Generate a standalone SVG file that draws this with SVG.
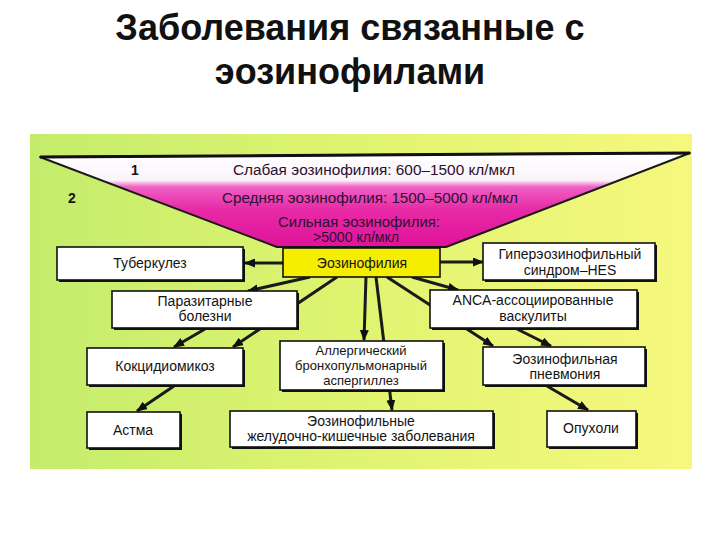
<svg xmlns="http://www.w3.org/2000/svg" width="720" height="540" viewBox="0 0 720 540">
<style>
  .t { font-family: "Liberation Sans", Arial, sans-serif; fill: #141414; text-anchor: middle; }
  .title { font-family: "Liberation Sans", Arial, sans-serif; font-weight: bold; font-size: 36px; fill: #111; text-anchor: middle; }
  .n { font-size: 14px; }
  .s { font-size: 13px; }
  .f { font-size: 14px; fill: #2a1030; }
  .box { fill: #ffffff; stroke: #111; stroke-width: 1.6; }
  .sh { fill: #111; }
  .c { stroke: #1a1a1a; stroke-width: 3; fill: none; marker-end: url(#ah); }
</style>
<defs>
  <linearGradient id="bg" x1="30" y1="0" x2="690" y2="0" gradientUnits="userSpaceOnUse">
    <stop offset="0" stop-color="#c4ec6c"/>
    <stop offset="0.5" stop-color="#e0f470"/>
    <stop offset="1" stop-color="#f6f87e"/>
  </linearGradient>
  <linearGradient id="fun" x1="0" y1="153" x2="0" y2="247" gradientUnits="userSpaceOnUse">
    <stop offset="0" stop-color="#ffffff"/>
    <stop offset="0.29" stop-color="#fbf4fa"/>
    <stop offset="0.36" stop-color="#f060c4"/>
    <stop offset="0.6" stop-color="#e82aa6"/>
    <stop offset="1" stop-color="#e0129a"/>
  </linearGradient>
  <marker id="ah" markerUnits="userSpaceOnUse" markerWidth="11" markerHeight="9" refX="10" refY="4.5" orient="auto">
    <path d="M0,0 L11,4.5 L0,9 z" fill="#111"/>
  </marker>
</defs>

<rect width="720" height="540" fill="#ffffff"/>
<text class="title" x="350" y="40">Заболевания связанные с</text>
<text class="title" x="350" y="84">эозинофилами</text>

<rect x="30" y="134" width="662" height="335" fill="url(#bg)"/>

<g id="funnel">
  <polygon points="40,157 690,153 446,247 277,247" fill="url(#fun)" stroke="#1a1a1a" stroke-width="2" stroke-linejoin="round"/>
  <line x1="40" y1="157" x2="690" y2="153" stroke="#111" stroke-width="3"/>
  <text class="t" x="135" y="175" style="font-size:14px;font-weight:bold">1</text>
  <text class="t" x="72" y="203" style="font-size:14px;font-weight:bold">2</text>
  <text class="t f" x="374" y="175" textLength="282" lengthAdjust="spacingAndGlyphs">Слабая эозинофилия: 600–1500 кл/мкл</text>
  <text class="t f" x="370" y="203" textLength="296" lengthAdjust="spacingAndGlyphs">Средняя эозинофилия: 1500–5000 кл/мкл</text>
  <text class="t f" x="359" y="227" textLength="162" lengthAdjust="spacingAndGlyphs">Сильная эозинофилия:</text>
  <text class="t f" x="356" y="242" textLength="86" lengthAdjust="spacingAndGlyphs">&gt;5000 кл/мкл</text>
</g>

<g id="connectors">
  <line class="c" x1="283" y1="263" x2="245" y2="263"/>
  <line class="c" x1="440" y1="262" x2="483" y2="262"/>
  <line class="c" x1="310" y1="277" x2="248" y2="291"/>
  <line class="c" x1="337" y1="277" x2="233" y2="347"/>
  <line class="c" x1="205" y1="329" x2="174" y2="347"/>
  <line class="c" x1="174" y1="386" x2="137" y2="411"/>
  <line class="c" x1="366" y1="277" x2="364" y2="340"/>
  <line class="c" x1="376" y1="277" x2="392" y2="410"/>
  <line class="c" x1="412" y1="277" x2="458" y2="290"/>
  <line class="c" x1="387" y1="277" x2="493" y2="346"/>
  <line class="c" x1="517" y1="329" x2="551" y2="346"/>
  <line class="c" x1="547" y1="386" x2="588" y2="410"/>
</g>

<g id="eos">
  <rect x="283" y="248" width="157" height="29" fill="#f6ee00" stroke="#111" stroke-width="1.6"/>
  <text class="t n" x="362" y="268">Эозинофилия</text>
</g>

<g id="tub">
  <rect class="sh" x="59" y="249" width="186" height="33"/>
  <rect class="box" x="57" y="247" width="186" height="33"/>
  <text class="t n" x="150" y="268">Туберкулез</text>
</g>

<g id="hes">
  <rect class="sh" x="485" y="245" width="172" height="37"/>
  <rect class="box" x="483" y="243" width="172" height="37"/>
  <text class="t n" x="570" y="259">Гиперэозинофильный</text>
  <text class="t n" x="570" y="275">синдром–HES</text>
</g>

<g id="parasit">
  <rect class="sh" x="114" y="293" width="185" height="37"/>
  <rect class="box" x="112" y="291" width="185" height="37"/>
  <text class="t n" x="205" y="306">Паразитарные</text>
  <text class="t n" x="205" y="321">болезни</text>
</g>

<g id="anca">
  <rect class="sh" x="432" y="292" width="207" height="38"/>
  <rect class="box" x="430" y="290" width="207" height="38"/>
  <text class="t n" x="533" y="305">ANCA-ассоциированные</text>
  <text class="t n" x="533" y="321">васкулиты</text>
</g>

<g id="kokc">
  <rect class="sh" x="89" y="350" width="156" height="37"/>
  <rect class="box" x="87" y="348" width="156" height="37"/>
  <text class="t n" x="165" y="371">Кокцидиомикоз</text>
</g>

<g id="abpa">
  <rect class="sh" x="282" y="343" width="163" height="49"/>
  <rect class="box" x="280" y="341" width="163" height="49"/>
  <text class="t s" x="361" y="355">Аллергический</text>
  <text class="t s" x="361" y="370">бронхопульмонарный</text>
  <text class="t s" x="361" y="385">аспергиллез</text>
</g>

<g id="pneum">
  <rect class="sh" x="485" y="349" width="162" height="38"/>
  <rect class="box" x="483" y="347" width="162" height="38"/>
  <text class="t n" x="565" y="364">Эозинофильная</text>
  <text class="t n" x="565" y="379">пневмония</text>
</g>

<g id="asthma">
  <rect class="sh" x="89" y="414" width="93" height="36"/>
  <rect class="box" x="87" y="412" width="93" height="36"/>
  <text class="t n" x="133" y="435">Астма</text>
</g>

<g id="gi">
  <rect class="sh" x="232" y="413" width="263" height="36"/>
  <rect class="box" x="230" y="411" width="263" height="36"/>
  <text class="t n" x="361" y="426">Эозинофильные</text>
  <text class="t n" x="361" y="441">желудочно-кишечные заболевания</text>
</g>

<g id="tumor">
  <rect class="sh" x="549" y="413" width="89" height="36"/>
  <rect class="box" x="547" y="411" width="89" height="36"/>
  <text class="t n" x="591" y="433">Опухоли</text>
</g>
</svg>
